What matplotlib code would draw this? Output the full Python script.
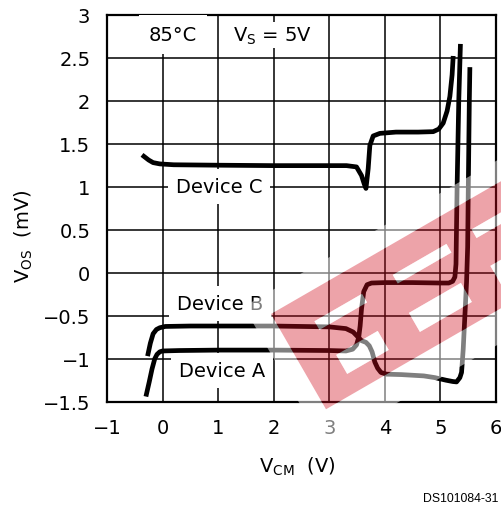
import matplotlib
matplotlib.use("Agg")
import matplotlib.pyplot as plt
from matplotlib.path import Path
from matplotlib.patches import PathPatch

# Offset voltage vs. common-mode voltage, three devices at 85 C
dev_a_x = [-0.30, -0.24, -0.19, -0.14, -0.10, -0.05, 0.0, 0.3, 1.0, 2.0, 3.0, 3.3,
           3.42, 3.49, 3.53, 3.555, 3.58, 3.62, 3.68, 3.76, 4.0, 4.5, 5.0, 5.15,
           5.22, 5.26, 5.28, 5.30, 5.33, 5.36]
dev_a_y = [-1.44, -1.27, -1.12, -1.00, -0.95, -0.92, -0.91, -0.905, -0.90, -0.90,
           -0.905, -0.91, -0.89, -0.84, -0.75, -0.62, -0.42, -0.22, -0.14, -0.12,
           -0.115, -0.115, -0.12, -0.12, -0.10, -0.05, 0.1, 1.0, 2.0, 2.66]

dev_b_x = [-0.27, -0.22, -0.17, -0.11, -0.05, 0.05, 0.5, 1.0, 2.0, 3.0, 3.3, 3.43,
           3.52, 3.58, 3.66, 3.72, 3.77, 3.82, 3.87, 3.93, 4.03, 4.3, 4.7, 4.9,
           5.1, 5.22, 5.29, 5.35, 5.38, 5.41, 5.44, 5.47, 5.49, 5.50, 5.52, 5.53]
dev_b_y = [-0.97, -0.82, -0.71, -0.66, -0.64, -0.625, -0.62, -0.62, -0.62, -0.63,
           -0.65, -0.69, -0.75, -0.79, -0.81, -0.85, -0.92, -1.04, -1.11, -1.16,
           -1.18, -1.185, -1.20, -1.22, -1.25, -1.265, -1.27, -1.22, -1.16, -0.89,
           -0.5, -0.11, 0.3, 0.9, 2.0, 2.39]

dev_c_x = [-0.37, -0.25, -0.17, -0.05, 0.2, 1.0, 2.0, 3.0, 3.31, 3.49, 3.58, 3.63,
           3.66, 3.70, 3.73, 3.79, 3.91, 4.2, 4.6, 4.87, 4.97, 5.05, 5.12, 5.17,
           5.21, 5.23]
dev_c_y = [1.37, 1.31, 1.28, 1.265, 1.255, 1.25, 1.245, 1.245, 1.245, 1.23, 1.13,
           1.03, 0.98, 1.21, 1.48, 1.59, 1.62, 1.635, 1.635, 1.64, 1.67, 1.74,
           1.88, 2.05, 2.30, 2.52]

x_ticks = [-1, 0, 1, 2, 3, 4, 5, 6]
y_ticks = [-1.5, -1, -0.5, 0, 0.5, 1, 1.5, 2, 2.5, 3]
y_tick_labels = ["\u22121.5", "\u22121", "\u22120.5", "0", "0.5", "1", "1.5", "2", "2.5", "3"]

plt.rcParams["font.family"] = ["DejaVu Sans"]
plt.rcParams["mathtext.default"] = "regular"

W, H = 502, 506
fig = plt.figure(figsize=(W / 100, H / 100), dpi=100)
ax = fig.add_axes([107 / W, 103.3 / H, 389 / W, 387 / H])

for xs, ys in [(dev_a_x, dev_a_y), (dev_b_x, dev_b_y), (dev_c_x, dev_c_y)]:
    ax.plot(xs, ys, color="black", lw=3.4, solid_capstyle="butt",
            solid_joinstyle="round", zorder=4)

ax.set_xlim(-1, 6)
ax.set_ylim(-1.5, 3)
ax.set_xticks(x_ticks)
ax.set_yticks(y_ticks)
ax.set_yticklabels(y_tick_labels)
ax.tick_params(length=0, labelsize=14, pad=12)
ax.grid(True, color="black", lw=1.1)
for sp in ax.spines.values():
    sp.set_linewidth(1.6)

box = dict(facecolor="white", edgecolor="none", boxstyle="square,pad=0.4")
ax.text(0.19, 2.77, "85\u00b0C", fontsize=14, ha="center", va="center",
        bbox=dict(facecolor="white", edgecolor="none", boxstyle="square,pad=0.5"), zorder=3)
ax.text(1.97, 2.76, "$V_S$ = 5V", fontsize=14, ha="center", va="center",
        bbox=dict(facecolor="white", edgecolor="none", boxstyle="square,pad=0.12"), zorder=3)
ax.text(1.02, 1.0, "Device C", fontsize=14, ha="center", va="center", bbox=box, zorder=3)
ax.text(1.04, -0.36, "Device B", fontsize=14, ha="center", va="center", bbox=box, zorder=3)
ax.text(1.07, -1.14, "Device A", fontsize=14, ha="center", va="center", bbox=box, zorder=3)

ax.text(-0.215, 0.43, "$V_{OS}$  (mV)", fontsize=14, rotation=90, ha="center",
        va="center", transform=ax.transAxes)
ax.text(0.49, -0.165, "$V_{CM}$  (V)", fontsize=14, ha="center", va="center",
        transform=ax.transAxes)
fig.text(498 / W, 1 - 499 / H, "DS101084-31", fontsize=8.8, ha="right", va="center",
         family="Liberation Sans")

# translucent stamp laid over the plot, built in pixel coordinates
ox, oy = 271, 315
ux, uy = 0.866, -0.5
nx, ny = 0.5, 0.866


def quad(s0, s1, t0, t1, reverse=False):
    pts = []
    for s, t in [(s0, t0), (s1, t0), (s1, t1), (s0, t1)]:
        px = ox + s * ux + t * nx
        py = oy + s * uy + t * ny
        pts.append((px / W, 1 - py / H))
    if reverse:
        pts = pts[::-1]
    return pts


def compound(rings):
    verts, codes = [], []
    for ring in rings:
        verts += ring + [ring[0]]
        codes += [Path.MOVETO] + [Path.LINETO] * (len(ring) - 1) + [Path.CLOSEPOLY]
    return Path(verts, codes)


band = (0, 330, 0, 110)
holes = [(34, 89, 28, 38), (125, 187, 27, 37), (216, 278, 27, 37),
         (36, 84, 68, 90), (120, 180, 68, 90), (214, 272, 68, 90)]

halo = compound([quad(-20, 352, -20, 140), quad(*band, reverse=True)])
fig.add_artist(PathPatch(halo, transform=fig.transFigure, facecolor="white",
                         edgecolor="none", alpha=0.5))
red = compound([quad(*band)] + [quad(*h, reverse=True) for h in holes])
fig.add_artist(PathPatch(red, transform=fig.transFigure, facecolor=(0.82, 0.05, 0.12),
                         edgecolor="none", alpha=0.38))
for h in holes:
    fig.add_artist(PathPatch(compound([quad(*h)]), transform=fig.transFigure,
                             facecolor="white", edgecolor="none", alpha=0.5))

fig.savefig("out.png", dpi=100)
